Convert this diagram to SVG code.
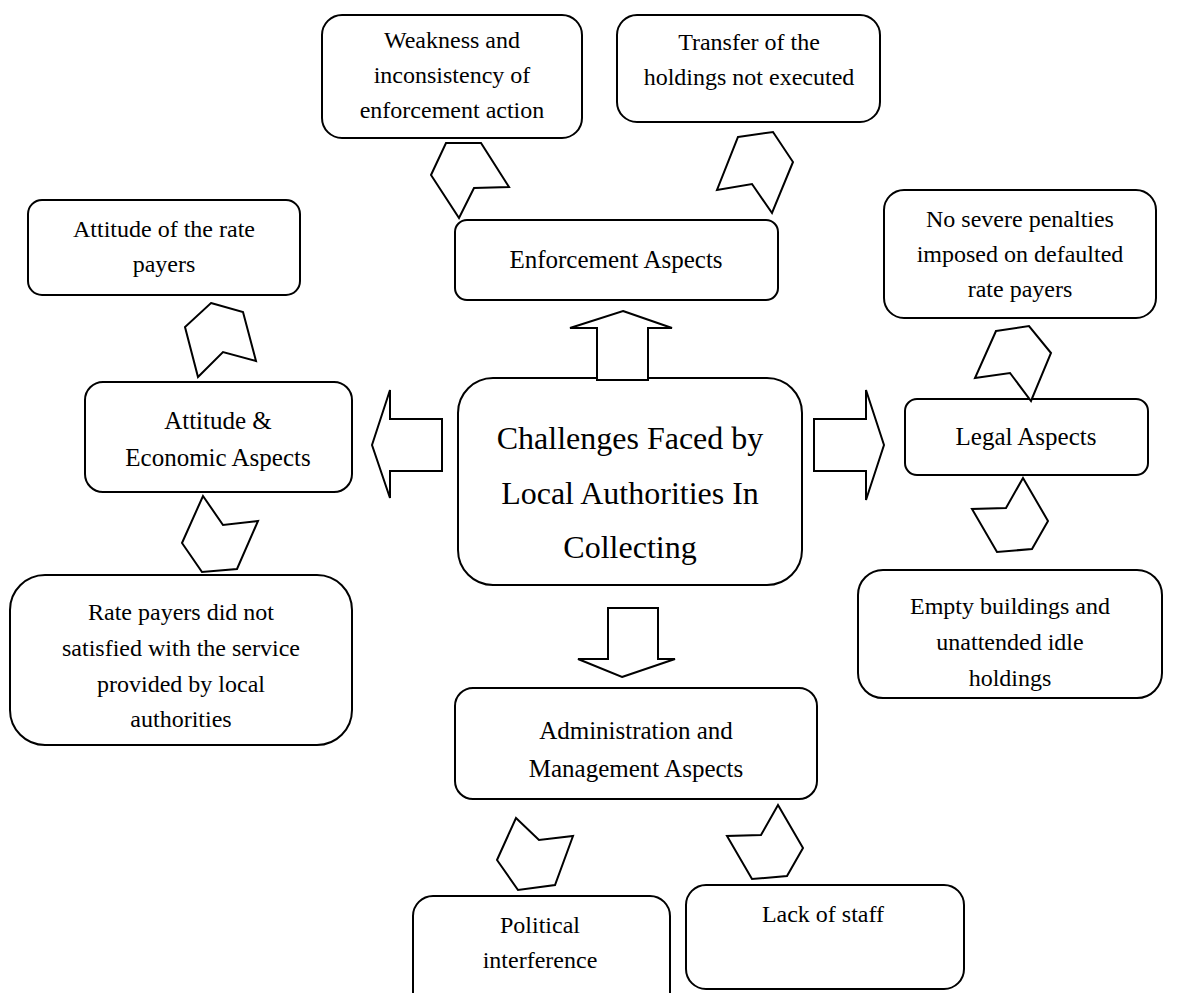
<svg xmlns="http://www.w3.org/2000/svg" width="1179" height="993" viewBox="0 0 1179 993">
<style>
.box{fill:#fff;stroke:#000;stroke-width:2}
.arr{fill:#fff;stroke:#000;stroke-width:2;stroke-linejoin:miter}
text{font-family:"Liberation Serif","Times New Roman",serif;font-size:24px;fill:#000;text-anchor:middle}
.cat{font-size:25px}
.big{font-size:32px}
</style>
<rect width="1179" height="993" fill="#fff"/>
<g id="weakness">
<rect class="box" x="322" y="15" width="260" height="123" rx="20"/>
<text x="452" y="48">Weakness and</text>
<text x="452" y="83">inconsistency of</text>
<text x="452" y="118">enforcement action</text>
</g>
<g id="transfer">
<rect class="box" x="617" y="15" width="263" height="107" rx="20"/>
<text x="749" y="50">Transfer of the</text>
<text x="749" y="85">holdings not executed</text>
</g>
<g id="enforcement">
<rect class="box" x="455" y="220" width="323" height="80" rx="12"/>
<text class="cat" x="616" y="268">Enforcement Aspects</text>
</g>
<g id="attitude-rate">
<rect class="box" x="28" y="200" width="272" height="95" rx="14"/>
<text x="164" y="237">Attitude of the rate</text>
<text x="164" y="272">payers</text>
</g>
<g id="penalties">
<rect class="box" x="884" y="190" width="272" height="128" rx="20"/>
<text x="1020" y="227">No severe penalties</text>
<text x="1020" y="262">imposed on defaulted</text>
<text x="1020" y="297">rate payers</text>
</g>
<g id="attitude-economic">
<rect class="box" x="85" y="382" width="267" height="110" rx="18"/>
<text class="cat" x="218" y="429">Attitude &amp;</text>
<text class="cat" x="218" y="466">Economic Aspects</text>
</g>
<g id="central">
<rect class="box" x="458" y="378" width="344" height="207" rx="35"/>
<text class="big" x="630" y="449">Challenges Faced by</text>
<text class="big" x="630" y="504">Local Authorities In</text>
<text class="big" x="630" y="558">Collecting</text>
</g>
<g id="legal">
<rect class="box" x="905" y="399" width="243" height="76" rx="12"/>
<text class="cat" x="1026" y="445">Legal Aspects</text>
</g>
<g id="rate-payers">
<rect class="box" x="10" y="575" width="342" height="170" rx="35"/>
<text x="181" y="620">Rate payers did not</text>
<text x="181" y="656">satisfied with the service</text>
<text x="181" y="692">provided by local</text>
<text x="181" y="727">authorities</text>
</g>
<g id="empty-buildings">
<rect class="box" x="858" y="570" width="304" height="128" rx="25"/>
<text x="1010" y="614">Empty buildings and</text>
<text x="1010" y="650">unattended idle</text>
<text x="1010" y="686">holdings</text>
</g>
<g id="administration">
<rect class="box" x="455" y="688" width="362" height="111" rx="18"/>
<text class="cat" x="636" y="739">Administration and</text>
<text class="cat" x="636" y="777">Management Aspects</text>
</g>
<g id="political">
<rect class="box" x="413" y="896" width="257" height="120" rx="20"/>
<text x="540" y="933">Political</text>
<text x="540" y="968">interference</text>
</g>
<g id="lack-staff">
<rect class="box" x="686" y="885" width="278" height="104" rx="20"/>
<text x="823" y="922">Lack of staff</text>
</g>
<g id="connectors">
<polygon class="arr" points="446,143 481,143 509,187 474,188 459,218 431,175"/>
<polygon class="arr" points="738,137 773,132 793,162 772,213 752,184 717,190"/>
<polygon class="arr" points="211,303 243,312 256,361 223,352 198,377 185,327"/>
<polygon class="arr" points="203,496 223,525 258,521 237,569 202,572 182,543"/>
<polygon class="arr" points="996,331 1029,326 1051,353 1031,401 1010,373 975,378"/>
<polygon class="arr" points="1023,478 1048,521 1032,549 997,552 972,509 1006,508"/>
<polygon class="arr" points="516,818 539,840 573,836 555,885 518,890 497,860"/>
<polygon class="arr" points="778,805 803,848 787,876 752,879 727,836 761,835"/>
<polygon class="arr" points="372,445 390,390 390,419 442,419 442,471 390,471 390,498"/>
<polygon class="arr" points="884,445 866,390 866,419 814,419 814,471 866,471 866,500"/>
<polygon class="arr" points="623,311 672,328 648,328 648,380 597,380 597,328 570,328"/>
<polygon class="arr" points="622,677 675,659 658,659 658,608 608,608 608,659 578,659"/>
</g>
</svg>
